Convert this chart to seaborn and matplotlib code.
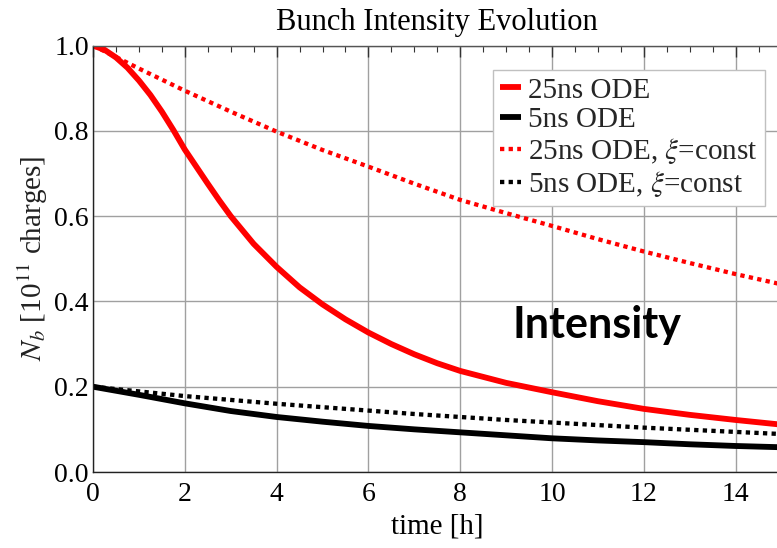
import numpy as np
import pandas as pd
import matplotlib
matplotlib.use("Agg")
import matplotlib.pyplot as plt
from matplotlib.ticker import MultipleLocator
import seaborn as sns

# ---- data ----
t_red = [0, 0.25, 0.5, 0.75, 1, 1.25, 1.5, 1.75, 2, 2.25, 2.5, 2.75, 3, 3.5, 4, 4.5,
         5, 5.5, 6, 6.5, 7, 7.5, 8, 9, 10, 11, 12, 13, 14, 15]
n_25ns = [1.0, 0.99, 0.972, 0.948, 0.918, 0.884, 0.845, 0.802, 0.756, 0.716, 0.676,
          0.637, 0.600, 0.535, 0.481, 0.433, 0.393, 0.358, 0.327, 0.300, 0.276,
          0.255, 0.237, 0.209, 0.187, 0.166, 0.148, 0.134, 0.122, 0.111]

t_std = [0, 1, 2, 3, 4, 5, 6, 7, 8, 9, 10, 11, 12, 13, 14, 15]
n_5ns = [0.200, 0.181, 0.161, 0.143, 0.129, 0.118, 0.108, 0.100, 0.093, 0.086,
         0.079, 0.074, 0.070, 0.065, 0.061, 0.058]
n_25ns_xi = [1.0, 0.946, 0.894, 0.845, 0.798, 0.755, 0.716, 0.676, 0.638, 0.607,
             0.577, 0.546, 0.517, 0.490, 0.464, 0.440]
n_5ns_xi = [0.200, 0.189, 0.178, 0.169, 0.160, 0.152, 0.144, 0.136, 0.129, 0.122,
            0.116, 0.110, 0.104, 0.099, 0.094, 0.089]

labels = ["25ns ODE", "5ns ODE", r"25ns ODE, $\xi$=const", r"5ns ODE, $\xi$=const"]
colors = ["#ff0000", "#000000", "#ff0000", "#000000"]

sns.set_theme(style="white")
plt.rcParams["font.family"] = ["Liberation Serif", "DejaVu Serif"]
plt.rcParams["mathtext.fontset"] = "stix"

fig = plt.figure(figsize=(7.77, 5.48), dpi=100)
L, R, T, B = 93, 781.5, 45.5, 472
W, H = 777, 548
ax = fig.add_axes([L / W, 1 - B / H, (R - L) / W, (B - T) / H])

series = [
    (t_red, n_25ns, "-"),
    (t_std, n_5ns, "-"),
    (t_std, n_25ns_xi, (0, (1, 1))),
    (t_std, n_5ns_xi, (0, (1, 1))),
]
for (tx, ny, ls), lab, col in zip(series, labels, colors):
    df = pd.DataFrame({"t": tx, "n": ny})
    lw = 4.2 if ls == "-" else 3.1
    sns.lineplot(data=df, x="t", y="n", ax=ax, color=col, lw=lw, linestyle=ls,
                 label=lab, solid_capstyle="butt", dash_capstyle="butt",
                 solid_joinstyle="round")

ax.set_xlim(0, 15)
ax.set_ylim(0, 1.0)
ax.xaxis.set_major_locator(MultipleLocator(2))
ax.xaxis.set_minor_locator(MultipleLocator(0.5))
ax.yaxis.set_major_locator(MultipleLocator(0.2))
ax.yaxis.set_minor_locator(MultipleLocator(0.05))
ax.set_xticks([0, 2, 4, 6, 8, 10, 12, 14])
ax.set_xticklabels(["0", "2", "4", "6", "8", "10", "12", "14"])
ax.set_yticks([0, 0.2, 0.4, 0.6, 0.8, 1.0])
ax.set_yticklabels(["0.0", "0.2", "0.4", "0.6", "0.8", "1.0"])

ax.grid(True, which="major", color="#a0a0a0", lw=1.0)
ax.tick_params(which="both", direction="in", top=True, right=False, colors="#333333",
               labelcolor="black")
ax.tick_params(which="major", length=8, width=1, labelsize=20)
ax.tick_params(which="minor", length=4, width=0.8)
ax.tick_params(axis="x", which="major", pad=7)
ax.tick_params(axis="y", which="major", pad=3)
for s in ["left", "bottom"]:
    ax.spines[s].set_color("#222222")
    ax.spines[s].set_linewidth(1.0)
ax.spines["top"].set_color("#555555")
ax.spines["top"].set_linewidth(1.0)
ax.spines["right"].set_visible(False)

ax.set_title("Bunch Intensity Evolution", fontsize=22, pad=11, color="black")
ax.set_xlabel("time [h]", fontsize=21, labelpad=5, color="black")
ax.set_ylabel(r"$N_b$ [10$^{11}$ charges]", fontsize=21, labelpad=3, color="#222222")

ax.text(9.15, 0.314, "Intensity", family=["Lato", "DejaVu Sans"], fontweight="bold",
        fontsize=31, ha="left", va="baseline", color="black")

leg = ax.legend(loc="upper left", bbox_to_anchor=((493 - L) / (R - L), (B - 70) / (B - T)),
                borderaxespad=0, fontsize=21, frameon=True, fancybox=False,
                framealpha=1, edgecolor="#c0c0c0", handlelength=0.7,
                handletextpad=0.25, labelspacing=0.1, borderpad=0.25)
leg.get_frame().set_linewidth(1.0)

fig.savefig("out.png", dpi=100)
